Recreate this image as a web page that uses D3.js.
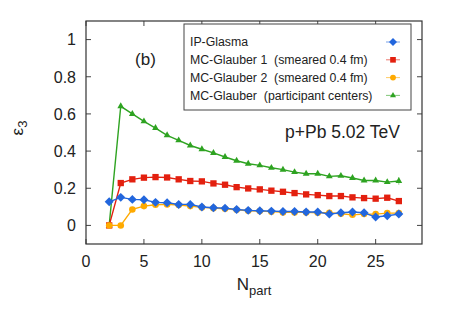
<!DOCTYPE html>
<html>
<head>
<meta charset="utf-8">
<script src="https://cdn.jsdelivr.net/npm/d3@7"></script>
<style>
  body { margin: 0; background: #fff; }
  text { font-family: "Liberation Sans", Arial, sans-serif; fill: #222; white-space: pre; }
</style>
</head>
<body>
<svg width="454" height="318"></svg>
<script>
// N_part values shared by all series
const npart = [2,3,4,5,6,7,8,9,10,11,12,13,14,15,16,17,18,19,20,21,22,23,24,25,26,27];

const ipGlasma = [0.127,0.151,0.140,0.138,0.124,0.122,0.113,0.113,0.099,0.095,0.093,0.086,0.081,0.079,0.077,0.075,0.075,0.072,0.072,0.061,0.068,0.072,0.068,0.045,0.052,0.061];
const glauber1 = [0,0.228,0.248,0.257,0.260,0.258,0.248,0.239,0.237,0.226,0.219,0.206,0.199,0.194,0.187,0.181,0.174,0.167,0.163,0.158,0.158,0.151,0.147,0.144,0.149,0.131];
const glauber2 = [0,0,0.086,0.104,0.111,0.113,0.110,0.104,0.097,0.093,0.090,0.084,0.079,0.077,0.074,0.070,0.070,0.070,0.068,0.068,0.063,0.057,0.061,0.061,0.066,0.066];
const glauberPart = [0,0.641,0.600,0.560,0.524,0.485,0.458,0.430,0.410,0.390,0.368,0.348,0.332,0.323,0.310,0.300,0.287,0.278,0.278,0.264,0.267,0.255,0.242,0.242,0.233,0.239];
const glauberPartErr = [0,0,0,0,0,0,0,0,0,0,0,0,0,0,0,0,0,0,0,0,0,0,0,0,0,0.02];

const xTicks = [0,5,10,15,20,25];
const yTicks = [0,0.2,0.4,0.6,0.8,1];

const series = [
  {name: 'IP-Glasma', values: ipGlasma, color: '#2266dd', shape: d3.symbolSquare, size: 40, rot: 45, z: 3},
  {name: 'MC-Glauber 1  (smeared 0.4 fm)', values: glauber1, color: '#e3200f', shape: d3.symbolSquare, size: 40, rot: 0, z: 1},
  {name: 'MC-Glauber 2  (smeared 0.4 fm)', values: glauber2, color: '#ffaa00', shape: d3.symbolCircle, size: 34, rot: 0, z: 2},
  {name: 'MC-Glauber  (participant centers)', values: glauberPart, color: '#2ea321', shape: d3.symbolTriangle, size: 20, rot: 0, z: 0, err: glauberPartErr}
];

const svg = d3.select('svg');
const margin = {top: 21, right: 32, bottom: 74, left: 86};
const width = +svg.attr('width') - margin.left - margin.right;
const height = +svg.attr('height') - margin.top - margin.bottom;

const x = d3.scaleLinear().domain([0, 29]).range([0, width]);
const y = d3.scaleLinear().domain([-0.1, 1.1]).range([height, 0]);

const g = svg.append('g').attr('transform', `translate(${margin.left},${margin.top})`);

// ticks inward on all four sides
const tl = 5;
g.append('g').selectAll('line').data(xTicks).join('line')
  .attr('x1', d => x(d)).attr('x2', d => x(d)).attr('y1', height).attr('y2', height - tl)
  .attr('stroke', '#444');
g.append('g').selectAll('line').data(xTicks).join('line')
  .attr('x1', d => x(d)).attr('x2', d => x(d)).attr('y1', 0).attr('y2', tl)
  .attr('stroke', '#444');
g.append('g').selectAll('line').data(yTicks).join('line')
  .attr('x1', 0).attr('x2', tl).attr('y1', d => y(d)).attr('y2', d => y(d))
  .attr('stroke', '#444');
g.append('g').selectAll('line').data(yTicks).join('line')
  .attr('x1', width).attr('x2', width - tl).attr('y1', d => y(d)).attr('y2', d => y(d))
  .attr('stroke', '#444');

g.append('g').selectAll('text').data(xTicks).join('text')
  .attr('x', d => x(d)).attr('y', height + 23)
  .attr('text-anchor', 'middle').style('font-size', '16px')
  .text(d => d);
g.append('g').selectAll('text').data(yTicks).join('text')
  .attr('x', -10).attr('y', d => y(d)).attr('dy', '0.36em')
  .attr('text-anchor', 'end').style('font-size', '16px')
  .text(d => d);

// lines and markers (blue drawn on top like the original)
const line = d3.line().x((d, i) => x(npart[i])).y(d => y(d));

series.slice().sort((a, b) => a.z - b.z).forEach(s => {
  const sg = g.append('g');
  sg.append('path').datum(s.values)
    .attr('d', line).attr('fill', 'none')
    .attr('stroke', s.color).attr('stroke-width', 1.4);
  if (s.err) {
    sg.selectAll('line.err').data(s.values).join('line')
      .attr('class', 'err')
      .attr('x1', (d, i) => x(npart[i])).attr('x2', (d, i) => x(npart[i]))
      .attr('y1', (d, i) => y(d - s.err[i])).attr('y2', (d, i) => y(d + s.err[i]))
      .attr('stroke', '#8fd085').attr('stroke-width', 1);
  }
  sg.selectAll('path.pt').data(s.values).join('path')
    .attr('class', 'pt')
    .attr('transform', (d, i) => `translate(${x(npart[i])},${y(d)}) rotate(${s.rot})`)
    .attr('d', d3.symbol().type(s.shape).size(s.size))
    .attr('fill', s.color);
});

// frame
g.append('rect').attr('width', width).attr('height', height)
  .attr('fill', 'none').attr('stroke', '#333').attr('stroke-width', 1.2);

// legend
const lg = svg.append('g').attr('transform', 'translate(184,24)');
lg.append('rect').attr('width', 227).attr('height', 86)
  .attr('fill', '#fff').attr('stroke', '#444').attr('stroke-width', 1);
series.forEach((s, i) => {
  const yy = 18 + i * 17.8;
  lg.append('text').attr('x', 6).attr('y', yy).attr('dy', '0.35em')
    .style('font-size', '12.3px').text(s.name);
  lg.append('line').attr('x1', 202).attr('x2', 216).attr('y1', yy).attr('y2', yy)
    .attr('stroke', s.color).attr('stroke-width', 1).attr('opacity', 0.6);
  lg.append('path').attr('transform', `translate(209,${yy}) rotate(${s.rot})`)
    .attr('d', d3.symbol().type(s.shape).size(s.size * 0.8)).attr('fill', s.color);
});

// annotations
svg.append('text').attr('x', 145.5).attr('y', 59).attr('dy', '0.35em')
  .attr('text-anchor', 'middle').style('font-size', '17px').text('(b)');
svg.append('text').attr('x', 400).attr('y', 138)
  .attr('text-anchor', 'end').style('font-size', '17.5px').text('p+Pb 5.02 TeV');

// axis titles
const xt = svg.append('text').attr('x', 254).attr('y', 290)
  .attr('text-anchor', 'middle').style('font-size', '17px');
xt.append('tspan').text('N');
xt.append('tspan').attr('dy', 5).style('font-size', '13px').text('part');

const yt = svg.append('text').attr('transform', 'translate(23,128) rotate(-90)')
  .attr('text-anchor', 'middle').style('font-size', '17px');
yt.append('tspan').text('ε');
yt.append('tspan').attr('dy', 4).style('font-size', '13px').text('3');
</script>
</body>
</html>
